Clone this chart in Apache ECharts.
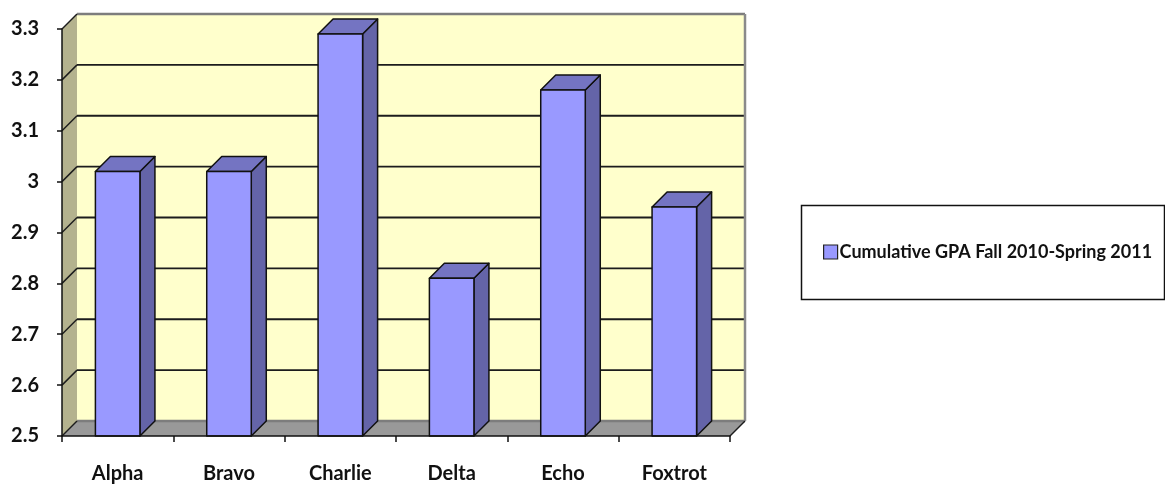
<!DOCTYPE html>
<html>
<head>
<meta charset="utf-8">
<script src="https://cdn.jsdelivr.net/npm/echarts@6/dist/echarts.min.js"></script>
<style>
  html, body { margin: 0; padding: 0; background: #ffffff; }
  #chart { width: 1165px; height: 484px; }
</style>
</head>
<body>
<div id="chart"></div>
<script>
// Chapter GPA, one bar per chapter
const categories = ['Alpha', 'Bravo', 'Charlie', 'Delta', 'Echo', 'Foxtrot'];
const gpaValues = [3.02, 3.02, 3.29, 2.81, 3.18, 2.95];
const seriesName = 'Cumulative GPA Fall 2010-Spring 2011';
const yTicks = [2.5, 2.6, 2.7, 2.8, 2.9, 3.0, 3.1, 3.2, 3.3];

const Y_MIN = 2.5, Y_MAX = 3.3, Y_STEP = 0.1;
// pseudo-3D depth offset (pixels)
const DX = 15, DY = 15;
const FONT = 'Lato, "Open Sans", sans-serif';

const chart = echarts.init(document.getElementById('chart'), null, { renderer: 'canvas' });

// Back wall, side wall, floor and grid lines, placed with the axis scales
function renderWalls(params, api) {
  const cs = params.coordSys;
  const x0 = cs.x, x1 = cs.x + cs.width;
  const yTop = api.coord([0, Y_MAX])[1];
  const yBot = api.coord([0, Y_MIN])[1];
  const children = [];
  // side wall
  children.push({ type: 'polygon', shape: { points: [[x0, yBot], [x0, yTop], [x0 + DX, yTop - DY], [x0 + DX, yBot - DY]] },
    style: { fill: '#b4b28e', stroke: null } });
  // back wall
  children.push({ type: 'rect', shape: { x: x0 + DX, y: yTop - DY, width: x1 - x0, height: yBot - yTop },
    style: { fill: '#ffffcc', stroke: null } });
  // floor
  children.push({ type: 'polygon', shape: { points: [[x0, yBot], [x1, yBot], [x1 + DX, yBot - DY], [x0 + DX, yBot - DY]] },
    style: { fill: '#999999', stroke: null } });
  // grid lines on back and side walls
  yTicks.forEach(function (v) {
    const y = api.coord([0, v])[1];
    const isEdge = (v === Y_MAX || v === Y_MIN);
    const col = isEdge ? '#7d7d7d' : '#1c1c1c';
    children.push({ type: 'line', shape: { x1: x0 + DX, y1: y - DY, x2: x1 + DX, y2: y - DY },
      style: { stroke: col, lineWidth: isEdge ? 2.5 : 1.8 } });
    children.push({ type: 'line', shape: { x1: x0, y1: y, x2: x0 + DX, y2: y - DY },
      style: { stroke: '#1c1c1c', lineWidth: 1.5 } });
  });
  // right edge of back wall
  children.push({ type: 'line', shape: { x1: x1 + DX, y1: yTop - DY, x2: x1 + DX, y2: yBot - DY },
    style: { stroke: '#8a8a8a', lineWidth: 2.5 } });
  // front-right floor edge
  children.push({ type: 'line', shape: { x1: x1, y1: yBot, x2: x1 + DX, y2: yBot - DY },
    style: { stroke: '#1c1c1c', lineWidth: 1.5 } });
  return { type: 'group', children: children };
}

// 3D-look columns: front face, top face and right side
function renderBar(params, api) {
  const idx = api.value(0);
  const val = api.value(1);
  const top = api.coord([idx, val]);
  const base = api.coord([idx, Y_MIN]);
  const w = api.size([1, 0])[0] * 0.4;
  const xL = top[0] - w / 2, xR = top[0] + w / 2;
  const yT = top[1], yB = base[1];
  const edge = { stroke: '#111', lineWidth: 1.5, lineJoin: 'round' };
  return {
    type: 'group',
    children: [
      { type: 'polygon', shape: { points: [[xR, yT], [xR + DX, yT - DY], [xR + DX, yB - DY], [xR, yB]] },
        style: Object.assign({ fill: '#6464a8' }, edge) },
      { type: 'polygon', shape: { points: [[xL, yT], [xR, yT], [xR + DX, yT - DY], [xL + DX, yT - DY]] },
        style: Object.assign({ fill: '#7474c2' }, edge) },
      { type: 'rect', shape: { x: xL, y: yT, width: w, height: yB - yT },
        style: Object.assign({ fill: '#9999ff' }, edge) }
    ]
  };
}

const option = {
  backgroundColor: '#ffffff',
  animation: false,
  grid: { left: 62, top: 29, width: 668, height: 407, containLabel: false },
  legend: {
    data: [seriesName],
    left: 818, top: 238,
    icon: 'rect', itemWidth: 14, itemHeight: 14, itemGap: 10,
    itemStyle: { borderColor: '#222', borderWidth: 1.2 },
    textStyle: { fontFamily: FONT, fontWeight: 'bold', fontSize: 18, color: '#111', padding: [0, 0, 0, -3] },
    selectedMode: false
  },
  graphic: [
    { type: 'rect', left: 799, top: 203, shape: { width: 363, height: 94 },
      style: { fill: null, stroke: '#111', lineWidth: 1.5 }, z: 1 }
  ],
  xAxis: {
    type: 'category',
    data: categories,
    boundaryGap: true,
    z: 10,
    axisLine: { lineStyle: { color: '#111', width: 1.5 } },
    axisTick: { show: true, length: 6, lineStyle: { color: '#111', width: 1.5 } },
    axisLabel: { margin: 28, fontFamily: FONT, fontWeight: 'bold', fontSize: 20, color: '#111' },
    splitLine: { show: false }
  },
  yAxis: {
    type: 'value',
    min: Y_MIN, max: Y_MAX, interval: Y_STEP,
    z: 10,
    axisLine: { show: true, lineStyle: { color: '#111', width: 1.5 } },
    axisTick: { show: true, length: 5, lineStyle: { color: '#111', width: 1.5 } },
    axisLabel: { margin: 23, fontFamily: FONT, fontWeight: 'bold', fontSize: 20, color: '#111',
      formatter: function (v) { return String(Math.round(v * 10) / 10); } },
    splitLine: { show: false }
  },
  series: [
    {
      type: 'custom',
      name: 'walls',
      silent: true,
      z: 1,
      renderItem: renderWalls,
      data: [[0, Y_MIN]],
      clip: false
    },
    {
      type: 'custom',
      name: seriesName,
      z: 3,
      itemStyle: { color: '#9999ff' },
      renderItem: renderBar,
      data: categories.map(function (c, i) { return [i, gpaValues[i]]; }),
      encode: { x: 0, y: 1 },
      clip: false
    }
  ]
};

chart.setOption(option);
</script>
</body>
</html>
